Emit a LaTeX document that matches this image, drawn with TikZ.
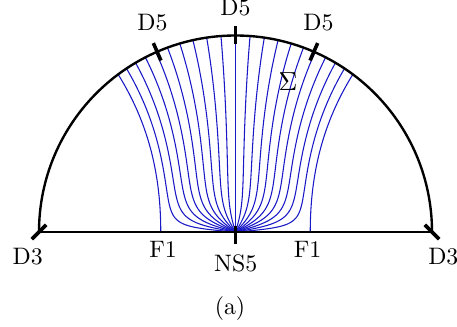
\documentclass[tikz,border=0pt]{standalone}
\usetikzlibrary{calc}
\definecolor{fl}{rgb}{0.1,0.1,0.78}
\begin{document}
\begin{tikzpicture}[x=0.42pt,y=0.42pt,
  declare function={
    gs(\h)=1+0.3955*(\h/157)^2+0.1695*(\h/157)^3;
    xs(\h,\t)=149.5*atan(tanh(pi*\h/80)*\t)/180;
  },
  field/.style={fl, line width=0.45pt},
  brane/.style={black, line width=1pt},
  tickmark/.style={black, line width=1.5pt},
  lab/.style={anchor=base, inner sep=0pt, font=\fontsize{10}{12}\selectfont}]
\useasboundingbox (0,0) rectangle (457,326);
\coordinate (O) at (235.5,94);
\coordinate (L) at (39,94);
\coordinate (R) at (432,94);
% field lines
\begin{scope}
\clip (L) -- (R) arc[start angle=0, end angle=180, radius=196.5] -- cycle;
\draw[field] (O) -- ++(0,200);
\foreach \k in {1,...,9}{
  \pgfmathsetmacro\T{tan(9*\k)}
  \draw[field] plot[domain=0:14.2, samples=110, variable=\s]
     ({235.5-gs(\s*\s)*xs(\s*\s,\T)}, {94+\s*\s});
  \draw[field] plot[domain=0:14.2, samples=110, variable=\s]
     ({235.5+gs(\s*\s)*xs(\s*\s,\T)}, {94+\s*\s});
}
\draw[field] plot[domain=0:200, samples=60, variable=\h] ({235.5-74.75*gs(\h)}, {94+\h});
\draw[field] plot[domain=0:200, samples=60, variable=\h] ({235.5+74.75*gs(\h)}, {94+\h});
\end{scope}
% boundary
\draw[brane] (L) -- (R);
\draw[brane] (R) arc[start angle=0, end angle=180, radius=196.5];
% ticks
\draw[tickmark] ($(O)+(90:188)$) -- ($(O)+(90:206)$);
\draw[tickmark] ($(O)+(113.5:187)$) -- ($(O)+(113.5:206)$);
\draw[tickmark] ($(O)+(66.5:187)$) -- ($(O)+(66.5:206)$);
\draw[tickmark] ($(L)+(-7.2,-7.2)$) -- ($(L)+(7.2,7.2)$);
\draw[tickmark] ($(R)+(-7.2,7.2)$) -- ($(R)+(7.2,-7.2)$);
\draw[tickmark] ($(O)+(0,6)$) -- ($(O)+(0,-12)$);
% labels
\node[lab] (d5t) at (235.5,310.5) {D5};
\node[lab] (d5l) at (152.5,295.5) {D5};
\node[lab] (d5r) at (318.5,295.5) {D5};
\node[lab, font=\fontsize{11.2}{13}\selectfont] (sig) at (288,235.3) {$\Sigma$};
\node[lab] (d3l) at (27.7,61.5) {D3};
\node[lab] (d3r) at (443.3,61.5) {D3};
\node[lab] (f1l) at (163,68.7) {F1};
\node[lab] (f1r) at (307.5,68.7) {F1};
\node[lab] (ns5) at (235.7,54.3) {NS5};
\node[lab] (cap) at (230,12) {(a)};
\end{tikzpicture}
\end{document}
